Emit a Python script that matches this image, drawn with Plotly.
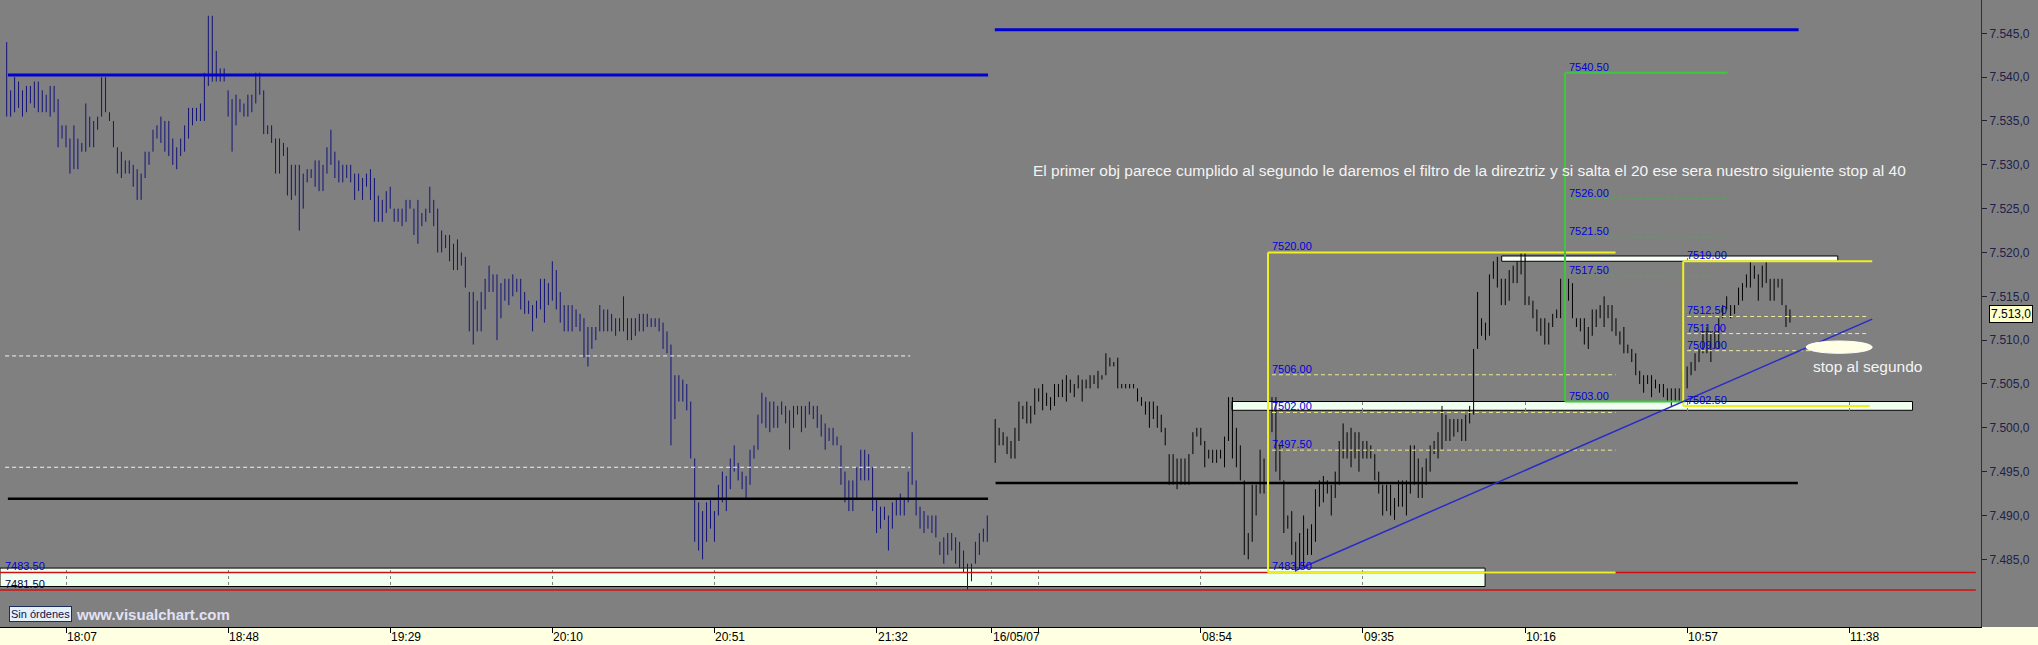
import plotly.graph_objects as go

# ---------------- data (1 slot = 1 one-minute bar) ----------------
LEFT_START = -15      # slot of first bar, previous session (blue bars)
RIGHT_START = 235     # slot of first bar, 16/05/07 session (black bars)

left_high = [7544.0, 7538.5, 7540.0, 7539.5, 7538.5, 7539.0, 7539.0, 7539.5, 7539.5, 7538.5,
             7538.0, 7539.0, 7539.0, 7537.5, 7534.5, 7534.5, 7533.0, 7534.5, 7533.0, 7532.5,
             7537.0, 7535.5, 7535.0, 7535.5, 7540.0, 7540.0, 7536.0, 7535.0, 7532.0, 7531.5,
             7530.5, 7530.5, 7530.0, 7529.5, 7529.0, 7531.5, 7531.5, 7534.0, 7534.5, 7535.5,
             7535.0, 7535.0, 7533.0, 7532.0, 7533.0, 7534.5, 7536.5, 7536.5, 7536.5, 7537.0,
             7540.5, 7547.0, 7547.0, 7543.0, 7541.0, 7541.0, 7538.5, 7537.5, 7538.0, 7537.5,
             7537.0, 7538.0, 7538.0, 7540.5, 7540.5, 7538.5, 7534.5, 7534.5, 7533.0, 7533.0,
             7532.5, 7532.0, 7530.0, 7530.0, 7530.0, 7529.0, 7529.5, 7529.5, 7530.5, 7530.5,
             7530.0, 7532.0, 7534.0, 7531.5, 7530.5, 7530.0, 7530.0, 7530.0, 7529.0, 7529.0,
             7528.5, 7529.0, 7529.5, 7528.5, 7526.5, 7526.0, 7527.0, 7527.5, 7525.0, 7525.0,
             7525.0, 7526.0, 7526.0, 7525.0, 7526.0, 7524.5, 7525.0, 7527.5, 7526.0, 7525.0,
             7522.5, 7522.0, 7522.0, 7521.0, 7521.5, 7520.0, 7519.5, 7515.5, 7515.5, 7514.5,
             7515.5, 7517.0, 7518.5, 7517.5, 7517.5,
             7516.5, 7517.0, 7517.0, 7517.5, 7517.0, 7517.0, 7515.5, 7514.5, 7514.0, 7514.5,
             7517.0, 7517.0, 7516.5, 7519.0, 7518.0, 7515.5, 7514.0, 7514.0, 7514.0, 7513.5,
             7513.0, 7512.5, 7511.5, 7511.5, 7511.5, 7514.0, 7513.5, 7513.5, 7513.0, 7512.5,
             7512.5, 7515.0, 7512.5, 7512.5, 7512.5, 7513.0, 7513.0, 7513.0, 7512.5, 7512.5,
             7512.5, 7512.0, 7511.0, 7509.5, 7506.0, 7506.0, 7505.5, 7505.0, 7503.0, 7496.5,
             7491.5, 7490.5, 7491.5, 7492.0, 7490.5, 7493.5, 7495.0, 7494.5, 7496.5, 7498.0,
             7496.0, 7495.0, 7494.5, 7497.5, 7498.0, 7501.5, 7504.0, 7503.5, 7503.0, 7503.0,
             7502.5, 7503.0, 7502.5, 7502.0, 7502.5, 7502.5, 7502.5, 7502.5, 7503.0, 7502.5,
             7502.5, 7501.5, 7500.5, 7500.0, 7500.0, 7499.0, 7498.0, 7495.0, 7494.0, 7494.0,
             7495.5, 7497.5, 7497.5, 7497.0, 7495.5, 7492.0, 7491.0, 7491.0, 7490.0, 7491.5,
             7492.0, 7492.5, 7492.0, 7495.0, 7499.5, 7494.0, 7491.0, 7490.5, 7490.0, 7490.0,
             7490.0, 7487.0, 7487.5, 7488.0, 7488.0, 7487.5, 7487.0, 7486.0, 7484.5, 7484.5,
             7487.0, 7488.0, 7488.5, 7490.0]
left_low = [7535.5, 7535.5, 7536.0, 7536.5, 7535.5, 7536.0, 7537.0, 7536.5, 7536.0, 7536.0,
            7536.0, 7535.5, 7536.0, 7532.0, 7533.0, 7532.0, 7529.0, 7529.5, 7529.5, 7531.5,
            7531.5, 7532.0, 7532.0, 7534.0, 7535.5, 7536.0, 7535.0, 7532.0, 7529.0, 7528.5,
            7529.0, 7529.0, 7527.5, 7526.0, 7526.0, 7528.5, 7530.0, 7531.5, 7533.0, 7532.5,
            7531.5, 7531.0, 7530.0, 7529.5, 7531.0, 7531.5, 7533.0, 7534.5, 7535.0, 7535.0,
            7535.0, 7539.0, 7539.5, 7539.5, 7539.5, 7539.5, 7535.5, 7531.5, 7534.5, 7536.0,
            7535.5, 7535.5, 7536.0, 7537.0, 7538.0, 7533.5, 7533.5, 7532.5, 7529.0, 7529.0,
            7531.0, 7526.5, 7526.0, 7526.5, 7522.5, 7525.0, 7528.0, 7528.5, 7527.5, 7527.0,
            7527.0, 7529.0, 7530.0, 7528.5, 7528.0, 7528.0, 7528.5, 7528.0, 7526.0, 7527.0,
            7526.0, 7527.5, 7526.0, 7523.5, 7523.5, 7523.5, 7524.5, 7525.0, 7523.5, 7523.5,
            7523.0, 7523.5, 7525.0, 7522.0, 7521.0, 7523.0, 7523.5, 7524.5, 7523.0, 7520.0,
            7520.0, 7520.5, 7519.0, 7518.0, 7518.0, 7518.5, 7516.0, 7511.0, 7509.5, 7511.0,
            7511.0, 7513.5, 7515.5, 7515.5, 7510.0,
            7512.5, 7514.5, 7514.0, 7515.0, 7515.5, 7513.5, 7513.0, 7513.0, 7511.0, 7512.5,
            7513.5, 7512.0, 7514.0, 7514.5, 7513.5, 7512.0, 7511.0, 7511.0, 7511.0, 7511.5,
            7511.0, 7508.0, 7507.0, 7509.0, 7510.0, 7511.0, 7511.0, 7511.0, 7511.0, 7510.5,
            7511.0, 7511.0, 7510.0, 7510.0, 7510.5, 7511.0, 7511.0, 7511.5, 7511.5, 7511.5,
            7511.0, 7509.0, 7508.5, 7498.0, 7501.0, 7503.0, 7503.0, 7502.0, 7496.5, 7487.0,
            7486.0, 7485.0, 7487.0, 7488.5, 7487.0, 7490.0, 7491.5, 7490.5, 7493.0, 7495.0,
            7494.0, 7493.0, 7492.0, 7493.5, 7496.5, 7497.5, 7500.5, 7500.0, 7499.5, 7500.0,
            7500.0, 7501.5, 7500.5, 7497.5, 7500.0, 7501.5, 7499.5, 7500.0, 7501.5, 7501.0,
            7500.0, 7499.0, 7497.5, 7498.5, 7498.0, 7498.0, 7493.5, 7491.5, 7490.5, 7490.5,
            7492.0, 7494.0, 7494.0, 7494.0, 7490.5, 7488.0, 7488.5, 7489.5, 7486.0, 7488.5,
            7490.0, 7490.0, 7490.0, 7491.5, 7493.5, 7490.0, 7488.5, 7488.0, 7488.5, 7488.0,
            7487.5, 7485.5, 7484.5, 7485.5, 7486.0, 7484.5, 7484.0, 7483.5, 7481.5, 7482.5,
            7484.5, 7485.5, 7487.0, 7487.0]

right_high = [7501.0, 7500.0, 7499.5, 7499.0, 7498.5, 7500.0, 7503.0, 7502.5, 7503.0, 7502.5,
              7504.5, 7504.5, 7505.0, 7504.0, 7503.5, 7505.0, 7505.0, 7505.5, 7506.0, 7505.5,
              7505.0, 7506.0, 7505.5, 7505.5, 7506.0, 7506.0, 7506.5, 7506.0, 7508.5, 7508.0,
              7507.5, 7508.0, 7505.0, 7505.0, 7505.0, 7505.0, 7504.5, 7503.5, 7503.0, 7503.0,
              7503.0, 7502.5, 7501.5, 7500.0, 7497.0, 7497.0, 7496.5, 7496.5, 7496.5, 7497.0,
              7499.5, 7500.0, 7500.0, 7498.5, 7497.5, 7497.5, 7497.5, 7497.5, 7499.0, 7503.5,
              7503.5, 7500.0, 7498.0, 7494.0, 7488.0, 7493.5, 7493.5, 7497.5, 7496.5, 7498.5,
              7503.5, 7503.5, 7498.0, 7494.0, 7490.0, 7490.5, 7487.0, 7488.0, 7490.0, 7488.5,
              7489.0, 7493.0, 7494.0, 7494.5, 7494.0, 7493.5, 7495.0, 7498.5, 7500.5, 7499.5,
              7500.0, 7499.5, 7499.5, 7498.5, 7498.5, 7498.0, 7497.0, 7495.0, 7493.5, 7493.5,
              7493.5, 7492.0, 7494.0, 7494.0, 7494.0, 7498.0, 7498.0, 7496.5, 7495.5, 7496.5,
              7498.0, 7498.5, 7499.5, 7502.5, 7501.5, 7501.0, 7501.0, 7501.0, 7501.0, 7501.5,
              7502.5, 7509.0, 7515.5, 7512.5, 7512.0,
              7517.5, 7519.0, 7519.5, 7517.0, 7517.0, 7518.0, 7518.5, 7519.0, 7520.0, 7520.0,
              7515.0, 7514.5, 7513.5, 7512.5, 7512.5, 7512.0, 7513.0, 7513.5, 7517.0, 7518.0,
              7517.0, 7516.5, 7512.5, 7512.5, 7512.5, 7511.5, 7513.5, 7513.5, 7514.0, 7515.0,
              7514.0, 7514.0, 7512.5, 7511.0, 7511.5, 7509.5, 7509.0, 7508.5, 7506.5, 7506.0,
              7506.0, 7506.0, 7505.5, 7505.0, 7505.0, 7504.5, 7504.5, 7504.5, 7504.5, 7506.5,
              7507.0, 7507.5, 7508.5, 7509.0, 7511.0, 7511.5, 7511.0, 7511.0, 7512.5, 7514.0,
              7515.0, 7514.0, 7514.0, 7516.0, 7516.5, 7517.5, 7519.0, 7518.5, 7517.5, 7518.5,
              7519.0, 7517.0, 7517.0, 7517.0, 7517.0, 7514.0, 7513.5]
right_low = [7496.0, 7498.0, 7498.0, 7497.0, 7496.5, 7496.5, 7498.5, 7501.0, 7500.5, 7500.5,
             7501.5, 7503.0, 7502.0, 7502.5, 7502.0, 7502.5, 7503.5, 7503.5, 7503.0, 7504.0,
             7503.5, 7504.5, 7503.0, 7504.5, 7504.5, 7505.0, 7504.5, 7505.5, 7506.0, 7507.0,
             7507.0, 7504.5, 7504.5, 7504.5, 7504.5, 7504.5, 7503.0, 7502.5, 7501.5, 7500.0,
             7501.0, 7500.0, 7499.5, 7498.0, 7493.5, 7493.5, 7493.0, 7493.5, 7493.5, 7493.5,
             7497.0, 7499.0, 7498.0, 7495.5, 7496.5, 7496.0, 7496.0, 7496.5, 7495.5, 7498.5,
             7496.5, 7495.5, 7494.0, 7485.5, 7485.0, 7487.0, 7490.0, 7492.5, 7492.5, 7494.0,
             7499.5, 7495.0, 7494.0, 7488.0, 7488.5, 7485.5, 7483.5, 7484.0, 7484.0, 7485.5,
             7485.5, 7487.0, 7491.0, 7491.5, 7492.5, 7490.0, 7492.0, 7493.5, 7496.5, 7496.5,
             7495.5, 7496.5, 7495.0, 7496.5, 7496.5, 7496.5, 7494.0, 7492.5, 7490.0, 7490.5,
             7490.0, 7489.5, 7491.0, 7491.0, 7490.0, 7492.5, 7493.5, 7492.0, 7492.0, 7493.5,
             7495.0, 7497.0, 7496.5, 7497.5, 7498.5, 7498.5, 7499.0, 7499.5, 7498.5, 7498.5,
             7500.5, 7501.5, 7509.0, 7510.5, 7510.0,
             7510.5, 7517.0, 7516.0, 7514.0, 7514.0, 7514.5, 7516.5, 7516.5, 7517.5, 7514.0,
             7514.0, 7512.5, 7511.0, 7510.5, 7509.5, 7509.5, 7511.5, 7512.5, 7512.5, 7516.0,
             7514.5, 7512.5, 7511.5, 7511.0, 7509.5, 7509.0, 7510.5, 7511.5, 7512.5, 7511.5,
             7512.5, 7511.0, 7510.5, 7509.5, 7508.5, 7508.5, 7507.5, 7506.0, 7505.0, 7504.0,
             7505.0, 7503.5, 7504.5, 7504.0, 7503.5, 7503.0, 7502.5, 7503.0, 7503.0, 7504.0,
             7504.5, 7506.0, 7506.5, 7507.5, 7508.5, 7508.5, 7507.5, 7509.0, 7509.0, 7512.5,
             7513.5, 7512.5, 7513.0, 7514.0, 7514.5, 7516.0, 7516.0, 7517.0, 7514.5, 7516.0,
             7516.5, 7514.5, 7514.5, 7516.0, 7514.0, 7511.5, 7512.0]

LAST_PRICE = 7513.0

x_tick_slots = [0, 41, 82, 123, 164, 205, 246, 287, 328, 369, 410, 451]
x_tick_text = ["18:07", "18:48", "19:29", "20:10", "20:51", "21:32", "",
               "08:54", "09:35", "10:16", "10:57", "11:38"]
DATE_SLOT = 234
DATE_TEXT = "16/05/07"

y_tick_vals = [7485, 7490, 7495, 7500, 7505, 7510, 7515, 7520, 7525, 7530, 7535, 7540, 7545]
y_tick_text = ["7.485,0", "7.490,0", "7.495,0", "7.500,0", "7.505,0", "7.510,0", "7.515,0",
               "7.520,0", "7.525,0", "7.530,0", "7.535,0", "7.540,0", "7.545,0"]

# drawn levels (prices)
BLUE_LEFT, BLUE_RIGHT = 7540.25, 7545.4
WHITE_DASH = [7508.2, 7495.5]
BLACK_LEFT, BLACK_RIGHT = 7491.9, 7493.7
BOTTOM_BOX = (7481.9, 7484.0)
RED_LEVELS = [7483.5, 7481.5]
RED_LABELS = ["7483.50", "7481.50"]

FIB1_TOP, FIB1_BOT = 7520.0, 7483.5
FIB1_LEVELS = [7506.05, 7501.75, 7497.45]
FIB1_LABELS = ["7520.00", "7506.00", "7502.00", "7497.50", "7483.50"]

ZONE_BOX = (7502.0, 7503.0)
TOP_BOX = (7519.0, 7519.6)

FIBG_TOP, FIBG_BOT = 7540.5, 7503.0
FIBG_LEVELS = [7526.15, 7521.75, 7517.35]
FIBG_LABELS = ["7540.50", "7526.00", "7521.50", "7517.50", "7503.00"]

FIB2_TOP, FIB2_BOT = 7519.0, 7502.5
FIB2_LEVELS = [7512.7, 7510.75, 7508.8]
FIB2_LABELS = ["7519.00", "7512.50", "7511.00", "7509.00", "7502.50"]

TREND = [(310.8, 7483.7), (456.8, 7512.4)]

NOTE = ("El primer obj parece cumplido al segundo le daremos el filtro de la direztriz "
        "y si salta el 20 ese sera nuestro siguiente stop al 40")
STOP_NOTE = "stop al segundo"

# ---------------- figure ----------------
def bar_xy(start, highs, lows):
    xs, ys = [], []
    for i, (h, l) in enumerate(zip(highs, lows)):
        xs += [start + i, start + i, None]
        ys += [l, h, None]
    return xs, ys

fig = go.Figure()
lx, ly = bar_xy(LEFT_START, left_high, left_low)
rx, ry = bar_xy(RIGHT_START, right_high, right_low)
fig.add_trace(go.Scatter(x=lx, y=ly, mode="lines", line=dict(color="#12127a", width=1),
                         hoverinfo="skip"))
fig.add_trace(go.Scatter(x=rx, y=ry, mode="lines", line=dict(color="#000000", width=1),
                         hoverinfo="skip"))

shapes = []
def hline(x0, x1, y, color, width, dash="solid", layer="above"):
    shapes.append(dict(type="line", xref="x", yref="y", x0=x0, x1=x1, y0=y, y1=y,
                       line=dict(color=color, width=width, dash=dash), layer=layer))
def vline(x, y0, y1, color, width):
    shapes.append(dict(type="line", xref="x", yref="y", x0=x, x1=x, y0=y0, y1=y1,
                       line=dict(color=color, width=width), layer="above"))
def box(x0, x1, y0, y1, fill="#f0fff0"):
    shapes.append(dict(type="rect", xref="x", yref="y", x0=x0, x1=x1, y0=y0, y1=y1,
                       fillcolor=fill, line=dict(color="#000000", width=1), layer="below"))

# bottom yellow axis band
shapes.append(dict(type="rect", xref="paper", yref="paper", x0=0, x1=1.03, y0=-0.04, y1=0,
                   fillcolor="#ffffe1", line=dict(width=0), layer="below"))

# boxes (below bars)
box(-16.7, 358.9, BOTTOM_BOX[0], BOTTOM_BOX[1])
box(294.9, 467.0, ZONE_BOX[0], ZONE_BOX[1])
box(363.1, 448.1, TOP_BOX[0], TOP_BOX[1], fill="#f8fff8")

# horizontal reference lines
hline(-14.7, 233.2, BLUE_LEFT, "#0000d0", 3)
hline(234.9, 438.2, BLUE_RIGHT, "#0000d0", 3)
for lv in WHITE_DASH:
    hline(-15.4, 213.5, lv, "#f2f2f2", 1, dash="4px,3px")
hline(-14.7, 233.2, BLACK_LEFT, "#000000", 2.5)
hline(235.1, 438.0, BLACK_RIGHT, "#000000", 2.5)
hline(-16.7, 483.0, RED_LEVELS[0], "#d01010", 1.5)
hline(-16.7, 483.0, RED_LEVELS[1], "#d01010", 1.5)

# fib 1 (yellow)
vline(304.0, FIB1_BOT, FIB1_TOP, "#f0f020", 2)
hline(304.0, 391.9, FIB1_TOP, "#f0f020", 2)
hline(304.0, 391.9, FIB1_BOT, "#f0f020", 2)
for lv in FIB1_LEVELS:
    hline(305.0, 391.9, lv, "#e8e890", 1, dash="4px,3px")

# fib green
vline(379.1, FIBG_BOT, FIBG_TOP, "#3cc83c", 2)
hline(379.1, 420.2, FIBG_TOP, "#3cc83c", 2)
hline(379.1, 409.5, FIBG_BOT, "#3cc83c", 2)
for lv, xe in zip(FIBG_LEVELS, [420.2, 420.2, 416.2]):
    hline(380.0, xe, lv, "#5aa05a", 1.2, dash="4px,3px")

# fib 2 (yellow)
vline(409.0, FIB2_BOT, FIB2_TOP, "#f0f020", 2)
hline(409.0, 456.8, FIB2_TOP, "#f0f020", 2)
hline(409.0, 456.2, FIB2_BOT, "#f0f020", 2)
for lv in FIB2_LEVELS:
    hline(410.0, 455.4, lv, "#ececa0", 1, dash="4px,3px")

# trend line
shapes.append(dict(type="line", xref="x", yref="y", x0=TREND[0][0], y0=TREND[0][1],
                   x1=TREND[1][0], y1=TREND[1][1], line=dict(color="#2a2ac8", width=1.5),
                   layer="above"))
# ellipse
shapes.append(dict(type="circle", xref="x", yref="y", x0=440.1, x1=456.8, y0=7508.5, y1=7509.9,
                   fillcolor="#ffffe6", line=dict(color="#ffffff", width=1), layer="above"))

annotations = []
def lab(x, y, text, size=11, color="#0000dc"):
    annotations.append(dict(x=x, y=y, xref="x", yref="y", text=text, showarrow=False,
                            xanchor="left", yanchor="bottom", xshift=1, yshift=-2,
                            font=dict(family="Liberation Sans, Arial", size=size, color=color)))

lab(-16.2, RED_LEVELS[0], RED_LABELS[0])
lab(-16.2, RED_LEVELS[0] - 2.0, RED_LABELS[1], color="#000050")
for t, y in zip(FIB1_LABELS, [FIB1_TOP] + FIB1_LEVELS + [FIB1_BOT]):
    lab(304.3, y, t)
for t, y in zip(FIBG_LABELS, [FIBG_TOP] + FIBG_LEVELS + [FIBG_BOT]):
    lab(379.3, y, t)
for t, y in zip(FIB2_LABELS, [FIB2_TOP] + FIB2_LEVELS + [FIB2_BOT]):
    lab(409.3, y, t)

annotations.append(dict(x=355.0, y=7529.4, xref="x", yref="y", text=NOTE, showarrow=False,
                        font=dict(family="Liberation Sans, Arial", size=15.5, color="#f4f4f4")))
annotations.append(dict(x=455.7, y=7507.0, xref="x", yref="y", text=STOP_NOTE, showarrow=False,
                        font=dict(family="Liberation Sans, Arial", size=15.5, color="#f4f4f4")))

# x-axis labels, left aligned at their ticks
for s, t in zip(x_tick_slots, x_tick_text):
    if t:
        annotations.append(dict(x=s, y=0, xref="x", yref="paper", text=t, showarrow=False,
                                xanchor="left", yanchor="top", xshift=-1, yshift=-1,
                                font=dict(family="Liberation Sans, Arial", size=12, color="#000000")))
annotations.append(dict(x=DATE_SLOT, y=0, xref="x", yref="paper", text=DATE_TEXT, showarrow=False,
                        xanchor="left", yanchor="top", xshift=0, yshift=-1,
                        font=dict(family="Liberation Sans, Arial", size=12, color="#000000")))

# last price marker
annotations.append(dict(x=1.0038, y=LAST_PRICE, xref="paper", yref="y", text="7.513,0",
                        showarrow=False, xanchor="left", yanchor="middle",
                        bgcolor="#ffffcc", bordercolor="#000000", borderwidth=1, borderpad=1,
                        font=dict(family="Liberation Sans, Arial", size=12, color="#000000")))

# order status / watermark
annotations.append(dict(x=0.0045, y=0.02, xref="paper", yref="paper", text="Sin órdenes",
                        showarrow=False, xanchor="left", yanchor="middle",
                        bgcolor="#e4f0fa", bordercolor="#1c2c5c", borderwidth=1, borderpad=1,
                        font=dict(family="Liberation Sans, Arial", size=11, color="#10104a")))
annotations.append(dict(x=0.0375, y=0.02, xref="paper", yref="paper", text="<b>www.visualchart.com</b>",
                        showarrow=False, xanchor="left", yanchor="middle",
                        font=dict(family="Liberation Sans, Arial", size=15, color="#e2e2f6")))

fig.update_layout(
    width=2038, height=645,
    margin=dict(l=0, r=57, t=0, b=18, autoexpand=False),
    paper_bgcolor="#808080", plot_bgcolor="#808080",
    showlegend=False, shapes=shapes, annotations=annotations,
    xaxis=dict(range=[-16.692, 484.32], tickvals=x_tick_slots + [DATE_SLOT],
               showticklabels=False, ticks="outside", ticklen=5, tickcolor="#000000",
               showgrid=True, gridcolor="#808080", griddash="dot", gridwidth=1,
               showline=True, linecolor="#000000", linewidth=1, zeroline=False,
               automargin=False),
    yaxis=dict(range=[7477.28, 7548.80], side="right", tickvals=y_tick_vals,
               ticktext=y_tick_text, ticks="outside", ticklen=5, tickcolor="#202040",
               tickfont=dict(family="Liberation Sans, Arial", size=12, color="#20204a"),
               showgrid=False, showline=True, linecolor="#303030", linewidth=1,
               zeroline=False, automargin=False),
)

fig.write_html("out.html", config={"displayModeBar": False},
               post_script="document.body.style.margin='0';document.body.style.padding='0';"
                           "document.body.style.overflow='hidden';")
